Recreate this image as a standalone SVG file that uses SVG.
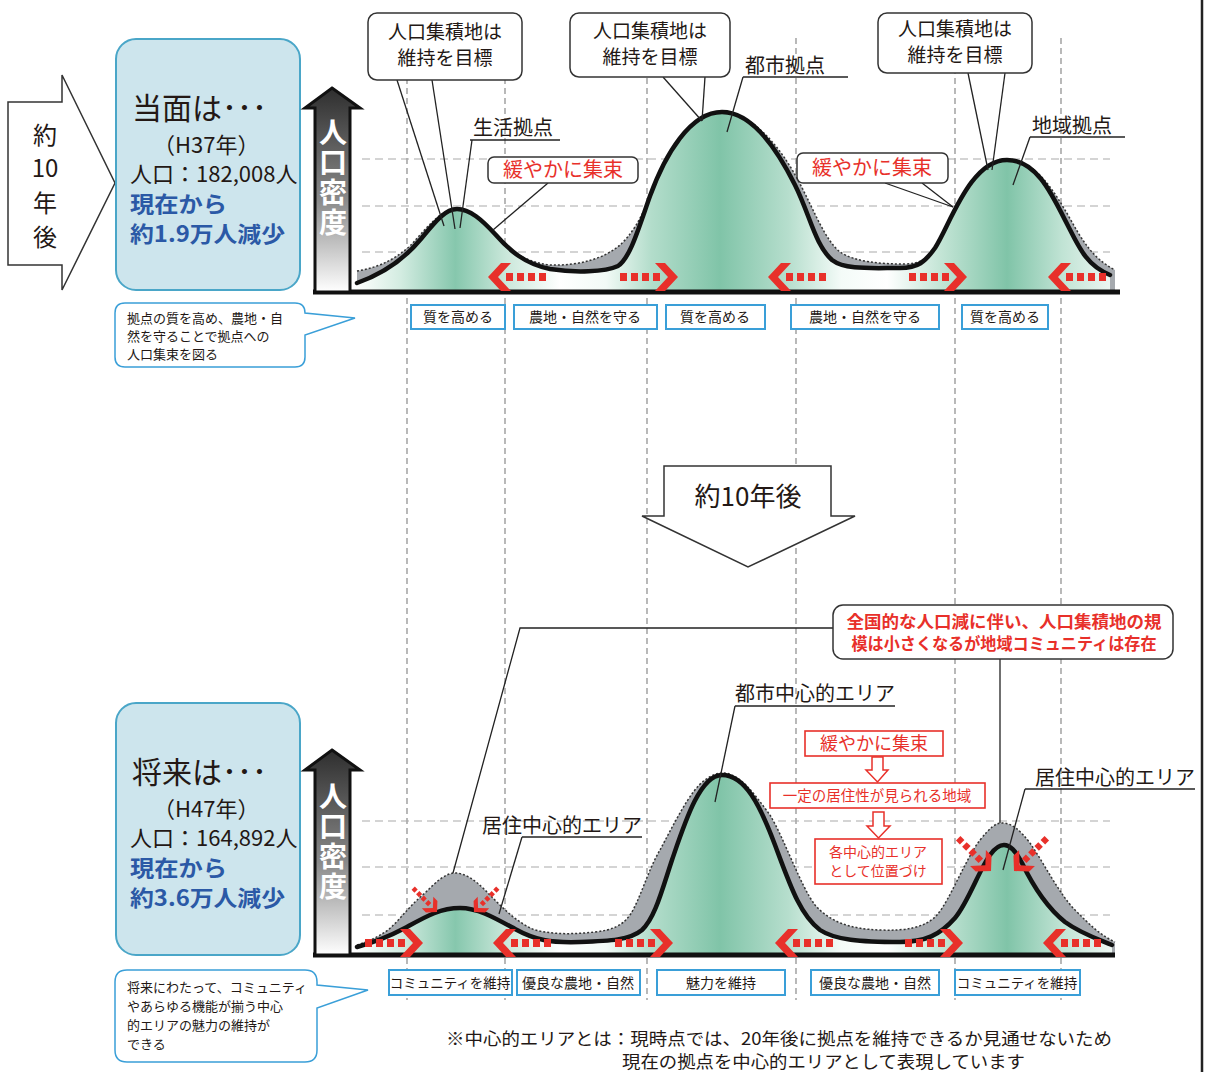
<svg xmlns="http://www.w3.org/2000/svg" width="1205" height="1072" viewBox="0 0 1205 1072">
<defs>
<linearGradient id="gr" gradientUnits="userSpaceOnUse" x1="355" y1="0" x2="1115" y2="0">
<stop offset="0" stop-color="#ffffff"/>
<stop offset="0.06" stop-color="#d3ece1"/>
<stop offset="0.132" stop-color="#86c7ad"/>
<stop offset="0.20" stop-color="#cbe8db"/>
<stop offset="0.27" stop-color="#ffffff"/>
<stop offset="0.33" stop-color="#f2faf6"/>
<stop offset="0.39" stop-color="#b3ddcb"/>
<stop offset="0.48" stop-color="#80c4a8"/>
<stop offset="0.57" stop-color="#b6decd"/>
<stop offset="0.64" stop-color="#f4fbf8"/>
<stop offset="0.70" stop-color="#ffffff"/>
<stop offset="0.77" stop-color="#c4e5d6"/>
<stop offset="0.858" stop-color="#80c4a8"/>
<stop offset="0.93" stop-color="#c0e3d4"/>
<stop offset="1" stop-color="#f0f8f4"/>
</linearGradient>
<linearGradient id="ag" x1="0" y1="0" x2="0" y2="1">
<stop offset="0" stop-color="#2e2e2e"/>
<stop offset="0.55" stop-color="#8a8a8a"/>
<stop offset="1" stop-color="#ffffff"/>
</linearGradient>
<g id="ra" fill="#e8302a">
<polygon points="0,0 13,-14 23,-14 10,0 23,14 13,14"/>
<rect x="18" y="-4" width="7" height="8"/>
<rect x="29" y="-4" width="7" height="8"/>
<rect x="40" y="-4" width="7" height="8"/>
<rect x="51" y="-4" width="7" height="8"/>
</g>
</defs>
<style>
text{font-family:'Noto Sans CJK JP','Noto Sans',sans-serif;fill:#231815}
.vd{stroke:#8a8a8a;stroke-width:1.2;stroke-dasharray:6 4;fill:none}
.hd{stroke:#aaaaaa;stroke-width:1.2;stroke-dasharray:8 5;fill:none}
.cb{fill:#fff;stroke:#333;stroke-width:1.5}
.pl{stroke:#222;stroke-width:1.3;fill:none}
.lb{fill:#fff;stroke:#3a9fd8;stroke-width:2}
.rb{fill:#fff;stroke:#e8302a;stroke-width:1.6}
.red{fill:#e8302a}
.blue{fill:#2b59a6;font-weight:bold}
.sol{fill:none;stroke:#111;stroke-width:4.5;stroke-linejoin:round;stroke-linecap:round}
.dot{fill:none;stroke:#333;stroke-width:1.5;stroke-dasharray:2 2}
.gray{fill:#a5a9ae}
.green{fill:url(#gr)}
.info{fill:#cde5ed;stroke:#4aa6c8;stroke-width:2}
.bub{fill:#fff;stroke:#3a9fd8;stroke-width:1.5}
.ax{fill:url(#ag);stroke:#111;stroke-width:3}
.axt{fill:#fff;font-weight:bold;font-size:28px;writing-mode:vertical-rl;letter-spacing:2px}
.c{text-anchor:middle}
</style>

<!-- right border -->
<line x1="1202" y1="0" x2="1202" y2="1072" stroke="#222" stroke-width="2.5"/>

<!-- vertical dashed guide lines -->
<g id="guides">
<line class="vd" x1="407" y1="38" x2="407" y2="1000"/>
<line class="vd" x1="505" y1="38" x2="505" y2="1000"/>
<line class="vd" x1="647" y1="38" x2="647" y2="1000"/>
<line class="vd" x1="796" y1="38" x2="796" y2="1000"/>
<line class="vd" x1="955" y1="38" x2="955" y2="1000"/>
<line class="vd" x1="1061" y1="38" x2="1061" y2="1000"/>
<line class="hd" x1="362" y1="159" x2="1110" y2="159"/>
<line class="hd" x1="362" y1="206" x2="1110" y2="206"/>
<line class="hd" x1="362" y1="252" x2="1110" y2="252"/>
<line class="hd" x1="362" y1="821" x2="1110" y2="821"/>
<line class="hd" x1="362" y1="867" x2="1110" y2="867"/>
<line class="hd" x1="362" y1="915" x2="1110" y2="915"/>
</g>

<!-- left big arrow -->
<g id="arrow10">
<polygon points="8,102 62,102 62,75 115,183 62,290 62,265 8,265" fill="#fff" stroke="#333" stroke-width="1.5"/>
<text font-size="24" class="c"><tspan x="45" y="144">約</tspan><tspan x="45" y="177">10</tspan><tspan x="45" y="212">年</tspan><tspan x="45" y="246">後</tspan></text>
</g>

<!-- top info box -->
<g id="infoTop">
<rect class="info" x="116" y="39" width="184" height="251" rx="20"/>
<text x="132" y="119" font-size="30">当面は･･･</text>
<text font-size="22"><tspan x="153" y="153">（H37年）</tspan><tspan x="130" y="182">人口：182,008人</tspan></text>
<text font-size="22" class="blue"><tspan x="130" y="212" textLength="97" lengthAdjust="spacingAndGlyphs">現在から</tspan><tspan x="130" y="242" textLength="155" lengthAdjust="spacingAndGlyphs">約1.9万人減少</tspan></text>
</g>

<!-- top bubble -->
<g id="bubbleTop">
<path class="bub" d="M125,303 H295 Q305,303 305,313 L355,318 L305,335 V357 Q305,367 295,367 H125 Q115,367 115,357 V313 Q115,303 125,303 Z"/>
<text font-size="13"><tspan x="127" y="323">拠点の質を高め、農地・自</tspan><tspan x="127" y="341">然を守ることで拠点への</tspan><tspan x="127" y="359">人口集束を図る</tspan></text>
</g>

<!-- top chart curves -->
<g id="chartTop">
<path class="gray" d="M357,271 C375,268 392,262 410,246 C425,230 440,209 457,209 C470,209 482,220 495,234 C510,251 525,262 550,265 C580,266 605,258 620,245 C630,236 640,222 650,196 C665,155 690,112 722,112 C750,112 778,143 798,180 C815,212 825,240 840,252 C855,262 880,264 905,264 C920,264 928,258 936,247 C950,225 970,160 1007,160 C1035,160 1052,188 1068,215 C1082,240 1092,258 1115,270 L1115,290 L357,290 Z"/>
<path class="green" d="M357,283 C385,273 405,258 420,240 C435,222 445,209 457,209 C470,209 482,220 495,234 C510,251 525,264 550,269 C575,273 605,272 618,266 C630,258 638,230 650,196 C665,155 690,112 722,112 C750,112 775,145 795,185 C810,215 815,245 832,260 C845,270 870,268 900,268 C918,268 925,262 935,248 C950,225 970,160 1007,160 C1035,160 1050,190 1065,220 C1078,245 1085,265 1110,275 L1110,290 L357,290 Z"/>
<path class="dot" d="M357,271 C375,268 392,262 410,246 C425,230 440,209 457,209 C470,209 482,220 495,234 C510,251 525,262 550,265 C580,266 605,258 620,245 C630,236 640,222 650,196 C665,155 690,112 722,112 C750,112 778,143 798,180 C815,212 825,240 840,252 C855,262 880,264 905,264 C920,264 928,258 936,247 C950,225 970,160 1007,160 C1035,160 1052,188 1068,215 C1082,240 1092,258 1115,270"/>
<path class="sol" d="M357,283 C385,273 405,258 420,240 C435,222 445,209 457,209 C470,209 482,220 495,234 C510,251 525,264 550,269 C575,273 605,272 618,266 C630,258 638,230 650,196 C665,155 690,112 722,112 C750,112 775,145 795,185 C810,215 815,245 832,260 C845,270 870,268 900,268 C918,268 925,262 935,248 C950,225 970,160 1007,160 C1035,160 1050,190 1065,220 C1078,245 1085,265 1110,275"/>
</g>

<!-- top axis -->
<g id="axisTop">
<line x1="313" y1="292" x2="1120" y2="292" stroke="#111" stroke-width="5"/>
<polygon class="ax" points="332,88 360,108 350,108 350,292 315,292 315,108 305,108"/>
<text class="axt" x="333" y="118">人口密度</text>
</g>

<!-- top red arrows -->
<g id="redArrowsTop">
<use href="#ra" transform="translate(488,277)"/>
<use href="#ra" transform="translate(678,277) scale(-1,1)"/>
<use href="#ra" transform="translate(768,277)"/>
<use href="#ra" transform="translate(967,277) scale(-1,1)"/>
<use href="#ra" transform="translate(1048,277)"/>
</g>

<!-- connectors / pointer lines top -->
<g id="connectorsTop">
<line class="pl" x1="397" y1="80" x2="444" y2="226"/>
<line class="pl" x1="432" y1="80" x2="455" y2="229"/>
<line class="pl" x1="472" y1="140" x2="460" y2="228"/>
<line class="pl" x1="470" y1="140" x2="560" y2="140"/>
<line class="pl" x1="548" y1="183" x2="493" y2="230"/>
<line class="pl" x1="663" y1="77" x2="702" y2="121"/>
<line class="pl" x1="705" y1="77" x2="702" y2="121"/>
<line class="pl" x1="743" y1="77" x2="848" y2="77"/>
<line class="pl" x1="743" y1="77" x2="727" y2="132"/>
<line class="pl" x1="885" y1="183" x2="953" y2="207"/>
<line class="pl" x1="922" y1="183" x2="953" y2="207"/>
<line class="pl" x1="968" y1="73" x2="988" y2="170"/>
<line class="pl" x1="1005" y1="73" x2="992" y2="170"/>
<line class="pl" x1="1030" y1="137" x2="1125" y2="137"/>
<line class="pl" x1="1030" y1="137" x2="1013" y2="185"/>
</g>

<!-- top callouts -->
<g id="calloutTop1">
<rect class="cb" x="368" y="13" width="154" height="67" rx="9"/>
<text font-size="19" class="c"><tspan x="445" y="39">人口集積地は</tspan><tspan x="445" y="65">維持を目標</tspan></text>
</g>
<g id="calloutTop2">
<rect class="cb" x="570" y="13" width="160" height="64" rx="9"/>
<text font-size="19" class="c"><tspan x="650" y="38">人口集積地は</tspan><tspan x="650" y="64">維持を目標</tspan></text>
</g>
<g id="calloutTop3">
<rect class="cb" x="878" y="13" width="154" height="60" rx="9"/>
<text font-size="19" class="c"><tspan x="955" y="36">人口集積地は</tspan><tspan x="955" y="62">維持を目標</tspan></text>
</g>
<g id="labelSeikatsu"><text x="473" y="135" font-size="20">生活拠点</text></g>
<g id="labelToshi"><text x="745" y="73" font-size="20">都市拠点</text></g>
<g id="labelChiiki"><text x="1032" y="133" font-size="20">地域拠点</text></g>
<g id="yuruyakaTop1">
<rect class="cb" x="488" y="157" width="150" height="26" rx="6"/>
<text x="563" y="177" font-size="20" class="c red">緩やかに集束</text>
</g>
<g id="yuruyakaTop2">
<rect class="cb" x="797" y="153" width="151" height="30" rx="6"/>
<text x="872" y="175" font-size="20" class="c red">緩やかに集束</text>
</g>

<!-- top label boxes -->
<g id="labelsTop">
<rect class="lb" x="411" y="305" width="94" height="24"/>
<text x="458" y="322" font-size="14" class="c">質を高める</text>
<rect class="lb" x="514" y="305" width="143" height="24"/>
<text x="585" y="322" font-size="14" class="c">農地・自然を守る</text>
<rect class="lb" x="666" y="305" width="99" height="24"/>
<text x="715" y="322" font-size="14" class="c">質を高める</text>
<rect class="lb" x="791" y="305" width="148" height="24"/>
<text x="865" y="322" font-size="14" class="c">農地・自然を守る</text>
<rect class="lb" x="962" y="305" width="86" height="24"/>
<text x="1005" y="322" font-size="14" class="c">質を高める</text>
</g>

<!-- middle arrow -->
<g id="arrowMid">
<polygon points="664,466 831,466 831,516 855,516 748,567 642,516 664,516" fill="#fff" stroke="#333" stroke-width="1.5"/>
<text x="748" y="506" font-size="26" class="c">約10年後</text>
</g>

<!-- bottom info box -->
<g id="infoBottom">
<rect class="info" x="116" y="703" width="184" height="252" rx="20"/>
<text x="132" y="783" font-size="30">将来は･･･</text>
<text font-size="22"><tspan x="153" y="817">（H47年）</tspan><tspan x="130" y="846">人口：164,892人</tspan></text>
<text font-size="22" class="blue"><tspan x="130" y="876" textLength="97" lengthAdjust="spacingAndGlyphs">現在から</tspan><tspan x="130" y="906" textLength="155" lengthAdjust="spacingAndGlyphs">約3.6万人減少</tspan></text>
</g>

<!-- bottom bubble -->
<g id="bubbleBottom">
<path class="bub" d="M127,970 H305 Q317,970 317,982 V985 L368,990 L317,1008 V1050 Q317,1062 305,1062 H127 Q115,1062 115,1050 V982 Q115,970 127,970 Z"/>
<text font-size="13"><tspan x="127" y="992">将来にわたって、コミュニティ</tspan><tspan x="127" y="1011">やあらゆる機能が揃う中心</tspan><tspan x="127" y="1030">的エリアの魅力の維持が</tspan><tspan x="127" y="1049">できる</tspan></text>
</g>

<!-- bottom chart curves -->
<g id="chartBottom">
<path class="gray" d="M357,945 C370,941 378,937 388,930 C400,920 410,905 425,893 C435,883 445,873 455,873 C465,873 475,880 485,890 C500,905 515,922 535,930 C555,935 575,934 595,932 C612,930 622,926 630,915 C640,900 648,870 660,850 C672,828 690,790 705,780 C712,775 717,773 723,773 C740,773 755,795 770,815 C785,840 800,885 815,905 C830,922 850,929 880,930 C905,931 925,928 937,915 C950,900 965,860 980,840 C990,828 995,823 1002,823 C1012,823 1020,830 1030,843 C1045,865 1060,895 1075,910 C1090,925 1100,935 1115,942 L1115,953 L357,953 Z"/>
<path class="green" d="M357,947 C375,942 390,936 405,928 C425,917 440,908 460,908 C478,908 495,918 515,929 C535,940 550,943 580,942 C610,941 630,940 642,930 C655,918 662,890 672,860 C685,822 700,775 722,775 C745,775 760,805 775,845 C790,885 800,915 820,930 C835,940 860,942 900,942 C925,942 940,935 955,918 C968,903 980,868 990,855 C995,848 1000,845 1004,845 C1010,845 1015,850 1022,863 C1035,890 1050,910 1065,922 C1080,933 1095,938 1112,945 L1112,953 L357,953 Z"/>
<path class="dot" d="M357,945 C370,941 378,937 388,930 C400,920 410,905 425,893 C435,883 445,873 455,873 C465,873 475,880 485,890 C500,905 515,922 535,930 C555,935 575,934 595,932 C612,930 622,926 630,915 C640,900 648,870 660,850 C672,828 690,790 705,780 C712,775 717,773 723,773 C740,773 755,795 770,815 C785,840 800,885 815,905 C830,922 850,929 880,930 C905,931 925,928 937,915 C950,900 965,860 980,840 C990,828 995,823 1002,823 C1012,823 1020,830 1030,843 C1045,865 1060,895 1075,910 C1090,925 1100,935 1115,942"/>
<path class="sol" d="M357,947 C375,942 390,936 405,928 C425,917 440,908 460,908 C478,908 495,918 515,929 C535,940 550,943 580,942 C610,941 630,940 642,930 C655,918 662,890 672,860 C685,822 700,775 722,775 C745,775 760,805 775,845 C790,885 800,915 820,930 C835,940 860,942 900,942 C925,942 940,935 955,918 C968,903 980,868 990,855 C995,848 1000,845 1004,845 C1010,845 1015,850 1022,863 C1035,890 1050,910 1065,922 C1080,933 1095,938 1112,945"/>
</g>

<!-- bottom axis -->
<g id="axisBottom">
<line x1="313" y1="955" x2="1115" y2="955" stroke="#111" stroke-width="5"/>
<polygon class="ax" points="332,750 360,770 350,770 350,955 315,955 315,770 305,770"/>
<text class="axt" x="333" y="782">人口密度</text>
</g>

<!-- bottom red arrows -->
<g id="redArrowsBottom">
<use href="#ra" transform="translate(423,943) scale(-1,1)"/>
<use href="#ra" transform="translate(493,943)"/>
<use href="#ra" transform="translate(673,943) scale(-1,1)"/>
<use href="#ra" transform="translate(775,943)"/>
<use href="#ra" transform="translate(963,943) scale(-1,1)"/>
<use href="#ra" transform="translate(1043,943)"/>
<use href="#ra" transform="translate(437,912) rotate(45) scale(-0.58,0.58)"/>
<use href="#ra" transform="translate(474,912) rotate(-45) scale(0.58)"/>
<use href="#ra" transform="translate(991,871) rotate(45) scale(-0.8,0.8)"/>
<use href="#ra" transform="translate(1014,871) rotate(-45) scale(0.8)"/>
</g>

<!-- bottom connectors -->
<g id="connectorsBottom">
<polyline class="pl" points="833,628 520,628 453,873"/>
<line class="pl" x1="1000" y1="659" x2="1000" y2="823"/>
<line class="pl" x1="735" y1="706" x2="895" y2="706"/>
<line class="pl" x1="735" y1="706" x2="715" y2="802"/>
<line class="pl" x1="522" y1="837" x2="642" y2="837"/>
<line class="pl" x1="522" y1="837" x2="499" y2="914"/>
<line class="pl" x1="1025" y1="789" x2="1195" y2="789"/>
<line class="pl" x1="1025" y1="789" x2="1003" y2="870"/>
</g>

<!-- bottom callouts -->
<g id="calloutBig">
<rect class="cb" x="833" y="605" width="340" height="54" rx="10"/>
<text font-size="16.5" font-weight="bold" class="c red"><tspan x="1004" y="628" textLength="315" lengthAdjust="spacingAndGlyphs">全国的な人口減に伴い、人口集積地の規</tspan><tspan x="1004" y="650" textLength="305" lengthAdjust="spacingAndGlyphs">模は小さくなるが地域コミュニティは存在</tspan></text>
</g>
<g id="labelToshiChushin"><text x="735" y="701" font-size="20">都市中心的エリア</text></g>
<g id="labelKyojuL"><text x="482" y="833" font-size="20">居住中心的エリア</text></g>
<g id="labelKyojuR"><text x="1035" y="785" font-size="20">居住中心的エリア</text></g>

<g id="flow1">
<rect class="rb" x="805" y="731" width="138" height="25"/>
<text x="874" y="750" font-size="18" class="c red">緩やかに集束</text>
</g>
<g id="flowArrow1">
<polygon points="872,757 883,757 883,770 888,770 877.5,782 866,770 872,770" fill="#fff" stroke="#e8302a" stroke-width="1.5"/>
</g>
<g id="flow2">
<rect class="rb" x="770" y="783" width="215" height="25"/>
<text x="877" y="801" font-size="14.5" class="c red">一定の居住性が見られる地域</text>
</g>
<g id="flowArrow2">
<polygon points="873,812 884,812 884,826 890,826 878.5,838 867,826 873,826" fill="#fff" stroke="#e8302a" stroke-width="1.5"/>
</g>
<g id="flow3">
<rect class="rb" x="815" y="839" width="127" height="45"/>
<text font-size="14" class="c red"><tspan x="878" y="857">各中心的エリア</tspan><tspan x="878" y="876">として位置づけ</tspan></text>
</g>

<!-- bottom label boxes -->
<g id="labelsBottom">
<rect class="lb" x="389" y="970" width="123" height="25"/>
<text x="450" y="988" font-size="13.5" class="c">コミュニティを維持</text>
<rect class="lb" x="517" y="970" width="123" height="25"/>
<text x="578" y="988" font-size="14" class="c">優良な農地・自然</text>
<rect class="lb" x="657" y="970" width="128" height="25"/>
<text x="721" y="988" font-size="14" class="c">魅力を維持</text>
<rect class="lb" x="811" y="970" width="128" height="25"/>
<text x="875" y="988" font-size="14" class="c">優良な農地・自然</text>
<rect class="lb" x="955" y="970" width="125" height="25"/>
<text x="1017" y="988" font-size="13.5" class="c">コミュニティを維持</text>
</g>

<!-- footnote -->
<g id="footnote">
<text font-size="17"><tspan x="446" y="1045" textLength="666" lengthAdjust="spacingAndGlyphs">※中心的エリアとは：現時点では、20年後に拠点を維持できるか見通せないため</tspan><tspan x="622" y="1068" textLength="403" lengthAdjust="spacingAndGlyphs">現在の拠点を中心的エリアとして表現しています</tspan></text>
</g>
</svg>
